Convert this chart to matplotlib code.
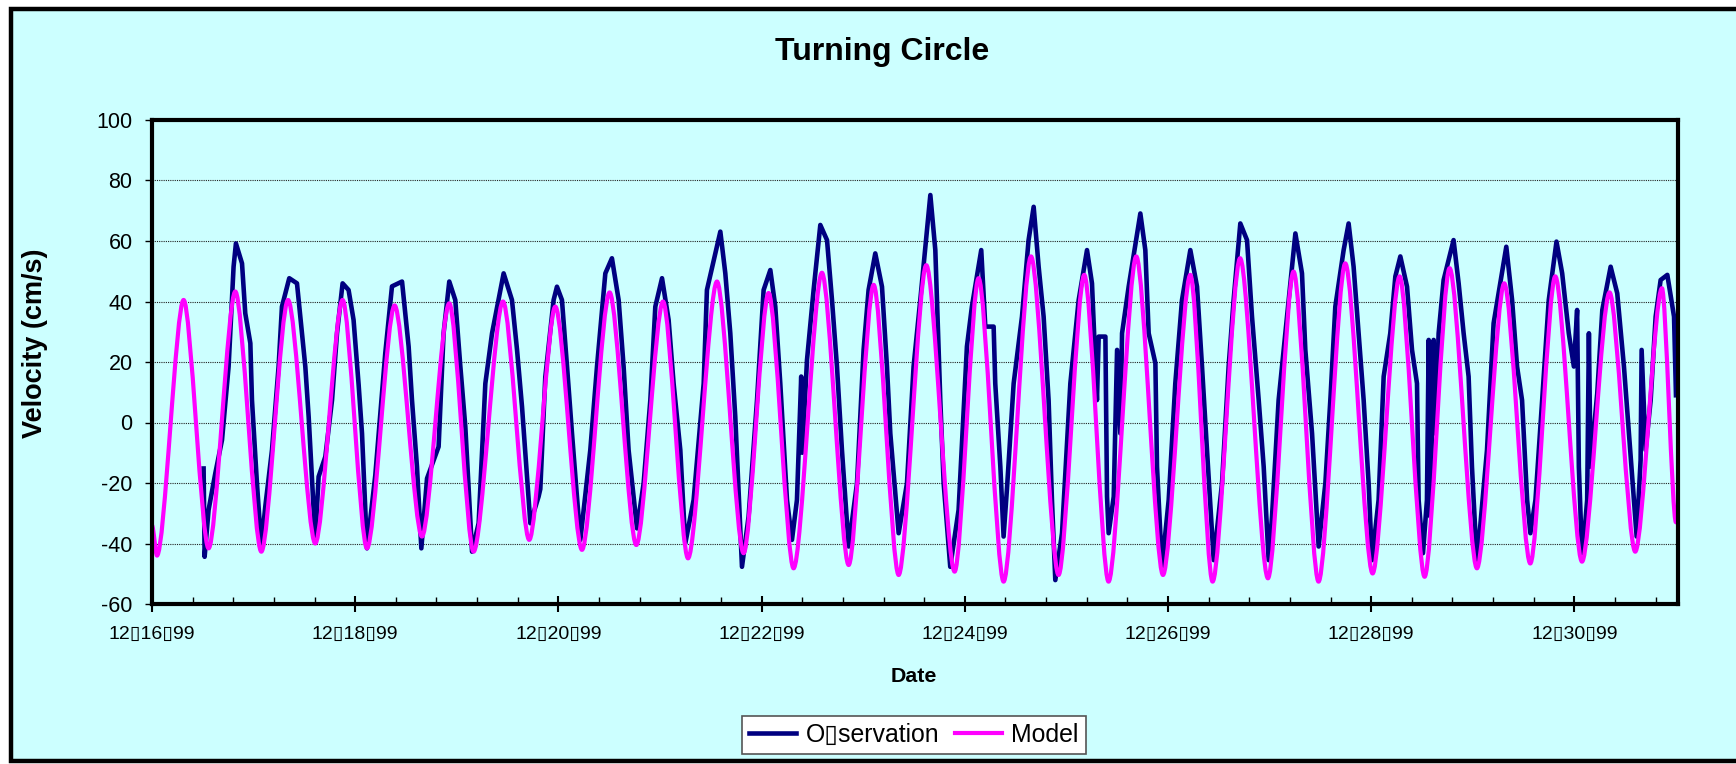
import matplotlib
matplotlib.use("Agg")
import matplotlib.pyplot as plt
from matplotlib.patches import Rectangle, PathPatch
from matplotlib.path import Path
from matplotlib.ticker import MultipleLocator

# ---------------------------------------------------------------- data
# time in days after 12/16/99 00:00, velocity in cm/s
# model: turning points of the smoothed model curve
model_days = [0.0, 0.049, 0.311, 0.557, 0.82, 1.076, 1.339, 1.607, 1.876, 2.116,
              2.388, 2.657, 2.926, 3.165, 3.455, 3.713, 3.97, 4.232, 4.504, 4.767,
              5.03, 5.276, 5.561, 5.823, 6.069, 6.315, 6.594, 6.857, 7.103, 7.349,
              7.621, 7.9, 8.136, 8.382, 8.652, 8.923, 9.176, 9.415, 9.688, 9.951,
              10.22, 10.439, 10.71, 10.984, 11.236, 11.482, 11.745, 12.014, 12.28, 12.526,
              12.772, 13.041, 13.31, 13.566, 13.812, 14.075, 14.346, 14.599, 14.862, 15.0]
model_vel = [-34, -44, 40.5, -41.6, 43.3, -42.7, 40.5, -40, 40.5, -41.6,
             38.7, -37.7, 39.4, -42.7, 40, -38.8, 38.3, -42.1, 43, -40.5,
             40, -44.9, 46.6, -43.2, 42.8, -48.2, 49.5, -47.1, 45.5, -50.4,
             52, -49.3, 47.7, -52.6, 54.9, -50.4, 48.8, -52.6, 54.9, -50.4,
             48.8, -52.6, 54.3, -51.5, 49.9, -52.6, 52.6, -49.9, 48.3, -51,
             51, -48.2, 46, -46.6, 48.3, -46, 43, -42.7, 44.4, -33]

obs_days = [0.508, 0.518, 0.557, 0.623, 0.689, 0.754, 0.803, 0.826, 0.886, 0.918,
            0.968, 0.984, 1.033, 1.076, 1.115, 1.181, 1.246, 1.279, 1.351, 1.427,
            1.46, 1.509, 1.542, 1.607, 1.64, 1.706, 1.772, 1.821, 1.876, 1.935,
            1.984, 2.034, 2.067, 2.116, 2.198, 2.296, 2.362, 2.461, 2.526, 2.559,
            2.608, 2.651, 2.707, 2.821, 2.87, 2.926, 2.985, 3.035, 3.084, 3.15,
            3.215, 3.281, 3.347, 3.461, 3.543, 3.593, 3.642, 3.724, 3.805,
            3.822, 3.871, 3.953, 3.986, 4.035, 4.085, 4.134, 4.216, 4.314, 4.38,
            4.462, 4.527, 4.593, 4.642, 4.691, 4.774, 4.839, 4.905, 4.954, 5.02,
            5.085, 5.134, 5.2, 5.249, 5.331, 5.43, 5.462, 5.594, 5.643, 5.692,
            5.741, 5.807, 5.872, 5.955, 6.02, 6.086, 6.135, 6.184, 6.25, 6.299,
            6.348, 6.39, 6.4, 6.447, 6.512, 6.578, 6.644, 6.693, 6.742, 6.791,
            6.857, 6.939, 7.004, 7.053, 7.119, 7.185, 7.234, 7.267, 7.349, 7.431,
            7.496, 7.562, 7.661, 7.71,
            7.759, 7.792, 7.857, 7.939, 8.021, 8.07, 8.162, 8.202, 8.284, 8.3,
            8.35, 8.382, 8.415, 8.481, 8.563, 8.628, 8.678, 8.727, 8.776, 8.825,
            8.858, 8.891, 8.957, 9.039, 9.121, 9.203, 9.252, 9.301, 9.318, 9.384,
            9.4, 9.416, 9.466, 9.499, 9.531, 9.548, 9.613, 9.728, 9.777, 9.81,
            9.876, 9.892, 9.941, 10.007, 10.072, 10.138, 10.22, 10.286, 10.335, 10.384,
            10.45, 10.532, 10.597, 10.646, 10.712, 10.778, 10.827, 10.893, 10.942, 10.991,
            11.024, 11.089, 11.155, 11.254, 11.319, 11.352, 11.418, 11.483, 11.549,
            11.6, 11.647, 11.729, 11.778, 11.827, 11.876, 11.926, 11.975, 12.008, 12.073,
            12.123, 12.188, 12.238, 12.287, 12.353, 12.402, 12.451, 12.467, 12.51, 12.549,
            12.566, 12.582, 12.615, 12.631, 12.664, 12.713, 12.811, 12.861, 12.91, 12.959,
            12.992, 13.041, 13.14, 13.205, 13.287, 13.33, 13.387, 13.436, 13.485, 13.535,
            13.567, 13.617, 13.683, 13.748, 13.824, 13.88, 13.945, 13.995, 14.027, 14.044,
            14.077, 14.126, 14.143, 14.159, 14.225, 14.275, 14.357, 14.422, 14.488, 14.537,
            14.613, 14.652, 14.662, 14.701, 14.751, 14.8, 14.849, 14.915, 14.981, 15.0]
obs_vel = [-15.2, -44.4, -28.9, -16.8, -5.8, 18.5, 51.5, 59.2, 52.6, 36.1,
           26.2, 7.4, -20.1, -41.0, -27.8, -9.1, 18.5, 38.3, 47.7, 46.0,
           35.0, 18.5, 1.9, -38.8, -17.9, -11.3, 7.4, 29.5, 46.0, 43.8,
           33.9, 12.4, -3.6, -41.6, -17.4, 22.9, 45.0, 46.6, 25.1, 7.4,
           -14.6, -41.6, -18.5, -8.0, 29.5, 46.6, 40.5, 18.5, -1.4, -42.7,
           -33.3, 12.9, 29.5, 49.3, 40.5, 24.0, 5.2, -33.3, -24.5,
           -22, 15, 40.5, 44.9, 40.5, 18.5, -3.6, -38.8, -9.1, 18.5,
           49.3, 54.3, 40.5, 18.5, -9.1, -35.0, -20.1, 7.4, 38.3, 47.7,
           33.9, 12.9, -9.1, -40.0, -25.6, 12.9, 43.8, 63.1, 49.3, 29.5,
           1.9, -47.7, -31.1, 7.4, 43.8, 50.4, 38.3, 12.9, -25.6, -38.8,
           -25.6, 15.2, -10, 20.7, 43.8, 65.3, 60.3, 40.5, 18.5, -9.1,
           -41.0, -20.1, 24.0, 43.8, 55.9, 44.9, 18.5, -3.6, -36.6, -20.1,
           18.5, 40.5, 75.2, 57.0,
           7.4, -20.1, -47.7, -28.9, 25.1, 38.3, 57.0, 31.7, 31.7, 12.9,
           -14.6, -37.7, -22, 12.9, 35.0, 60.3, 71.3, 51.5, 35.0, 7.4,
           -25.6, -52.1, -36.6, 12.9, 40.5, 57.0, 46.0, 7.4, 28.4, 28.4,
           -24.5, -36.6, -24.5, 24.0, -3.6, 29.5, 44.9, 69.1, 57.0, 29.5,
           19.6, -14.6, -47.7, -25.6, 12.9, 40.5, 57.0, 44.9, 18.5, -9.1,
           -45.5, -20.1, 18.5, 40.5, 65.8, 60.3, 35.0, 7.4, -14.6, -45.5,
           -31.1, 7.4, 29.5, 62.5, 49.3, 24.0, -3.6, -41.0, -20.1,
           8.5, 38.3, 57.0, 65.8, 51.5, 29.5, 7.4, -20.1, -45.5, -25.6,
           15.2, 29.5, 48.3, 54.9, 44.9, 24.0, 12.9, -25.6, -43.2, -25.6,
           27.3, -31.1, 27.3, -3.6, 29.5, 47.1, 60.3, 46.0, 29.5, 15.2,
           -14.6, -46.6, -9.1, 32.8, 49.3, 58.1, 40.5, 18.5, 7.4, -25.6,
           -36.6, -25.6, 7.4, 40.5, 59.8, 49.3, 29.5, 18.5, 37.2, -14.6,
           -45.5, -25.6, 29.5, -14.6, 9.6, 37.2, 51.5, 42.7, 18.5, -3.6,
           -37.7, -12.4, 24.0, -9.1, 7.4, 35.0, 47.1, 48.8, 35.0, 9.0]

tick_days = [0, 2, 4, 6, 8, 10, 12, 14]
tick_labels = ["12\u25af16\u25af99", "12\u25af18\u25af99", "12\u25af20\u25af99",
               "12\u25af22\u25af99", "12\u25af24\u25af99", "12\u25af26\u25af99",
               "12\u25af28\u25af99", "12\u25af30\u25af99"]
y_ticks = [-60, -40, -20, 0, 20, 40, 60, 80, 100]


# smoothed line like Excel's "smoothed line" option: a bezier through the points,
# flat at each turning point
def smooth_path(xs, ys, k=0.28):
    verts = [(xs[0], ys[0])]
    codes = [Path.MOVETO]
    for i in range(1, len(xs)):
        dx = (xs[i] - xs[i - 1]) * k
        verts += [(xs[i - 1] + dx, ys[i - 1]), (xs[i] - dx, ys[i]), (xs[i], ys[i])]
        codes += [Path.CURVE4] * 3
    return Path(verts, codes)


# ---------------------------------------------------------------- figure
plt.rcParams["font.family"] = ["Liberation Sans", "DejaVu Sans"]
plt.rcParams["axes.unicode_minus"] = False

W, H = 1736, 764
CYAN = "#CCFFFF"
NAVY = "#000080"
MAGENTA = "#FF00FF"

fig = plt.figure(figsize=(W / 100, H / 100), dpi=100, facecolor="white")
fig.patches.append(Rectangle((11 / W, 3 / H), 1.2, 752 / H, transform=fig.transFigure,
                             facecolor=CYAN, edgecolor="black", linewidth=3.2, zorder=-10))

ax = fig.add_axes([152 / W, (H - 604) / H, (1678 - 152) / W, (604 - 120) / H])
ax.set_facecolor(CYAN)

ax.plot(obs_days, obs_vel, color=NAVY, linewidth=3.3, label="O\u25afservation",
        solid_joinstyle="round", zorder=2)
ax.add_patch(PathPatch(smooth_path(model_days, model_vel), facecolor="none",
                       edgecolor=MAGENTA, linewidth=3.0, joinstyle="round",
                       capstyle="round", zorder=3))
ax.plot([], [], color=MAGENTA, linewidth=3.0, label="Model")  # legend entry

ax.set_xlim(0, 15.02)
ax.set_ylim(-60, 100)
ax.set_yticks(y_ticks)
ax.set_xticks(tick_days)
ax.set_xticklabels(tick_labels)
ax.xaxis.set_minor_locator(MultipleLocator(0.4))

ax.yaxis.grid(True, color="#222222", linestyle=(0, (1, 1)), linewidth=0.8)
ax.set_axisbelow(True)

for sp in ax.spines.values():
    sp.set_linewidth(3)
    sp.set_color("black")
    sp.set_zorder(4)

ax.tick_params(axis="y", direction="out", length=5, width=1, labelsize=15.5, pad=9)
ax.tick_params(axis="x", which="major", direction="inout", length=12, width=1.5,
               labelsize=14, pad=10)
ax.tick_params(axis="x", which="minor", direction="in", length=5, width=1)

fig.text(882 / W, 1 - 52 / H, "Turning Circle", ha="center", va="center",
         fontsize=23, fontweight="bold")
fig.text(914 / W, 1 - 677 / H, "Date", ha="center", va="center",
         fontsize=15.4, fontweight="bold")
fig.text(35 / W, 1 - 343 / H, "Velocity (cm/s)", ha="center", va="center",
         rotation=90, fontsize=19.5, fontweight="bold")

leg = fig.legend(loc="center", bbox_to_anchor=(914 / W, 1 - 735 / H), ncol=2,
                 frameon=True, fancybox=False, edgecolor="#555555", facecolor="white",
                 framealpha=1, fontsize=17.9, handlelength=1.9, columnspacing=0.65,
                 borderpad=0.3, handletextpad=0.36)
leg.get_frame().set_linewidth(1.2)

fig.savefig("out.png", dpi=100, facecolor="white")
